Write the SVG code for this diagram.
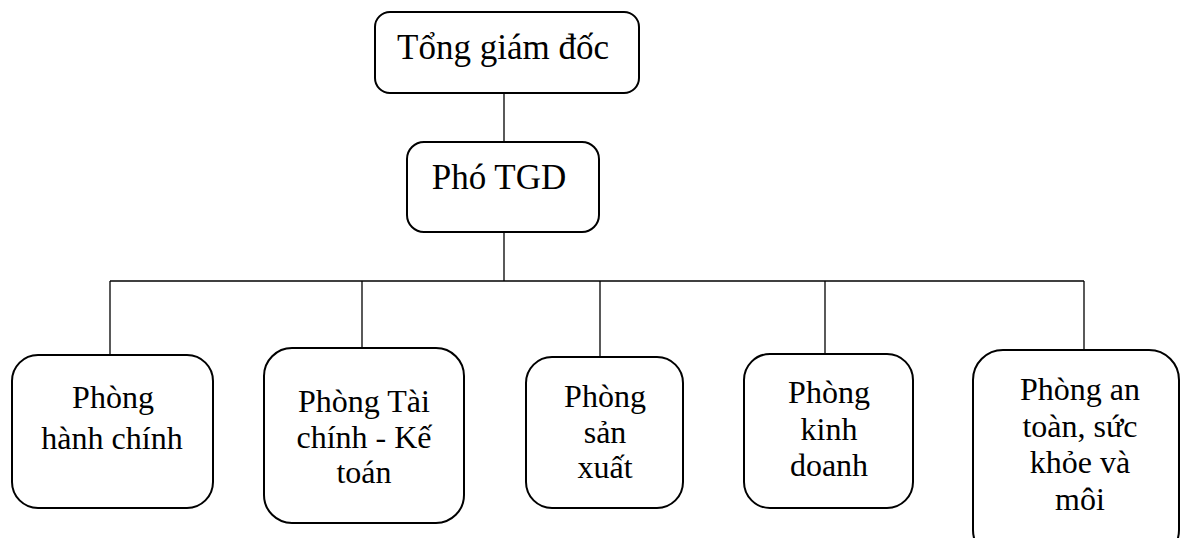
<svg xmlns="http://www.w3.org/2000/svg" width="1187" height="538" viewBox="0 0 1187 538">
  <style>
    .box { fill: #ffffff; stroke: #000000; stroke-width: 2; }
    .link { fill: none; stroke: #000000; stroke-width: 1.3; }
    text { font-family: 'Liberation Serif', 'DejaVu Serif', serif; fill: #000000; text-anchor: middle; }
    .big { font-size: 35px; }
    .small { font-size: 32px; }
  </style>
  <rect width="1187" height="538" fill="#ffffff"/>

  <!-- connectors -->
  <g id="connectors">
    <line class="link" x1="504" y1="93" x2="504" y2="142"/>
    <line class="link" x1="504" y1="232" x2="504" y2="281"/>
    <line class="link" x1="110" y1="281" x2="1084" y2="281"/>
    <line class="link" x1="110" y1="281" x2="110" y2="355"/>
    <line class="link" x1="362" y1="281" x2="362" y2="348"/>
    <line class="link" x1="600" y1="281" x2="600" y2="357"/>
    <line class="link" x1="825" y1="281" x2="825" y2="354"/>
    <line class="link" x1="1084" y1="281" x2="1084" y2="350"/>
  </g>

  <!-- top level -->
  <g id="tong-giam-doc">
    <rect class="box" x="375" y="12" width="264" height="81" rx="15"/>
    <text class="big" x="503" y="59">Tổng giám đốc</text>
  </g>

  <g id="pho-tgd">
    <rect class="box" x="407" y="142" width="192" height="90" rx="17"/>
    <text class="big" x="499" y="189">Phó TGD</text>
  </g>

  <!-- departments -->
  <g id="phong-hanh-chinh">
    <rect class="box" x="12" y="355" width="201" height="153" rx="26"/>
    <text class="small" x="113" y="408">Phòng</text>
    <text class="small" x="112" y="449">hành chính</text>
  </g>

  <g id="phong-tai-chinh">
    <rect class="box" x="264" y="348" width="200" height="175" rx="28"/>
    <text class="small" x="364" y="412">Phòng Tài</text>
    <text class="small" x="364" y="448">chính - Kế</text>
    <text class="small" x="364" y="483">toán</text>
  </g>

  <g id="phong-san-xuat">
    <rect class="box" x="526" y="357" width="157" height="151" rx="26"/>
    <text class="small" x="605" y="407">Phòng</text>
    <text class="small" x="605" y="443">sản</text>
    <text class="small" x="605" y="478">xuất</text>
  </g>

  <g id="phong-kinh-doanh">
    <rect class="box" x="744" y="354" width="169" height="154" rx="26"/>
    <text class="small" x="829" y="403">Phòng</text>
    <text class="small" x="829" y="440">kinh</text>
    <text class="small" x="829" y="476">doanh</text>
  </g>

  <g id="phong-an-toan">
    <rect class="box" x="973" y="350" width="206" height="210" rx="30"/>
    <text class="small" x="1080" y="400">Phòng an</text>
    <text class="small" x="1080" y="437">toàn, sức</text>
    <text class="small" x="1080" y="473">khỏe và</text>
    <text class="small" x="1080" y="510">môi</text>
  </g>
</svg>
